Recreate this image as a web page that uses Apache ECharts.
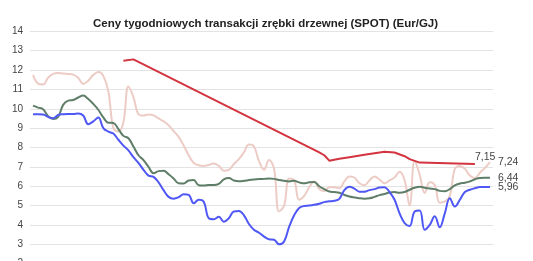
<!DOCTYPE html>
<html><head><meta charset="utf-8">
<script src="https://cdn.jsdelivr.net/npm/echarts@6/dist/echarts.min.js"></script>
<style>html,body{margin:0;padding:0;background:#fff;overflow:hidden}#c{width:533px;height:261px}</style>
</head><body><div id="c"></div><script>
const titleText = 'Ceny tygodniowych transakcji zrębki drzewnej (SPOT) (Eur/GJ)';
const yMin = 2, yMax = 14, yStep = 1;
const pinkValues = [11.75,11.3,11.25,11.6,11.8,11.85,11.82,11.8,11.76,11.6,11.28,11.45,11.75,11.9,11.7,10.9,9.0,8.82,9.3,11.15,10.6,9.72,9.65,9.7,9.66,9.5,9.35,9.15,8.85,8.55,8.1,7.6,7.2,7.08,7.05,7.1,7.17,7.05,6.8,6.85,7.15,7.4,7.75,8.15,8.05,7.3,6.85,7.35,6.9,4.7,5.0,6.4,6.3,5.3,5.5,5.95,6.24,5.85,5.75,5.95,5.95,5.9,6.25,6.5,6.45,6.15,6.05,6.3,6.5,6.35,6.15,6.3,6.45,6.75,6.3,5.0,7.3,6.6,5.65,6.2,6.05,5.15,5.2,5.5,6.9,7.05,6.9,6.55,6.42,6.7,6.95,7.24];
const greenValues = [10.16,10.06,9.98,9.62,9.47,9.58,10.2,10.42,10.45,10.58,10.68,10.5,10.25,9.95,9.55,9.28,9.27,8.95,8.6,8.48,8.05,7.6,7.35,7.0,6.67,6.78,6.8,6.62,6.4,6.15,6.14,6.3,6.32,6.05,6.04,6.06,6.06,6.12,6.35,6.42,6.3,6.26,6.28,6.32,6.35,6.37,6.38,6.4,6.38,6.32,6.28,6.25,6.28,6.2,6.15,6.2,6.22,6.0,5.85,5.73,5.7,5.66,5.55,5.47,5.42,5.38,5.36,5.38,5.45,5.54,5.6,5.68,5.7,5.66,5.7,5.82,5.92,5.97,5.92,5.88,5.85,5.76,5.74,5.85,6.05,6.14,6.18,6.25,6.36,6.43,6.44,6.44];
const blueValues = [9.72,9.72,9.71,9.58,9.51,9.68,9.72,9.73,9.73,9.76,9.65,9.2,9.35,9.55,9.0,8.82,8.72,8.4,8.1,7.85,7.5,7.2,6.85,6.55,6.48,6.2,5.8,5.45,5.36,5.43,5.58,5.55,5.12,5.3,5.2,4.35,4.3,4.42,4.17,4.35,4.7,4.72,4.5,4.05,3.75,3.6,3.4,3.26,3.24,3.0,3.15,3.9,4.5,4.88,4.98,5.0,5.04,5.1,5.18,5.22,5.25,5.35,5.8,5.97,5.88,5.72,5.72,5.8,5.85,5.93,5.95,5.7,5.3,4.6,4.1,3.95,4.7,4.75,3.75,4.0,4.45,3.88,4.6,5.38,4.95,5.3,5.7,5.82,5.9,5.96,5.96,5.96];
const redWeeks = [18,20,57,58,59,61,63,66,70,72,74,75,77,88];
const redValues = [12.48,12.55,7.75,7.6,7.32,7.42,7.5,7.62,7.78,7.74,7.55,7.4,7.22,7.15];

const toPairs = arr => arr.map((v, i) => [i, v]);
const fmt = p => p.value[1].toFixed(2).replace('.', ',');
const font = 'Liberation Sans, Arial, sans-serif';
const lbl = (extra) => Object.assign({show: true, formatter: fmt, color: '#444', fontSize: 10.5, fontFamily: font, distance: 8}, extra || {});

const chart = echarts.init(document.getElementById('c'), null, {renderer: 'canvas'});
chart.setOption({
  animation: false,
  backgroundColor: '#fff',
  title: {text: titleText, left: 88, top: 13, textStyle: {fontSize: 11.5, fontWeight: 'bold', color: '#222', fontFamily: font}},
  grid: {left: 30, right: 40, top: 31.3, height: 232.4, outerBoundsMode: 'none', containLabel: false},
  xAxis: {type: 'value', min: -0.6, max: 91.6, show: false},
  yAxis: {type: 'value', min: yMin, max: yMax, interval: yStep,
    axisLine: {show: false}, axisTick: {show: false},
    axisLabel: {color: '#444', fontSize: 10, fontFamily: font, margin: 7},
    splitLine: {lineStyle: {color: '#e3e3e3', width: 1}}},
  series: [
    {type: 'line', data: toPairs(pinkValues), smooth: 0.4, showSymbol: false, lineStyle: {color: '#ecccc5', width: 2}, itemStyle: {color: '#ecccc5'}, endLabel: lbl()},
    {type: 'line', data: toPairs(greenValues), smooth: 0.4, showSymbol: false, lineStyle: {color: '#5f7e68', width: 2}, itemStyle: {color: '#5f7e68'}, endLabel: lbl()},
    {type: 'line', data: toPairs(blueValues), smooth: 0.4, showSymbol: false, lineStyle: {color: '#4f57f5', width: 2}, itemStyle: {color: '#4f57f5'}, endLabel: lbl()},
    {type: 'line', data: redWeeks.map((w, i) => [w, redValues[i]]), smooth: false, showSymbol: false, lineStyle: {color: '#d3343f', width: 2, join: 'round'}, itemStyle: {color: '#d3343f'}, endLabel: lbl({distance: 0, offset: [0, -7]})}
  ]
});
</script></body></html>
